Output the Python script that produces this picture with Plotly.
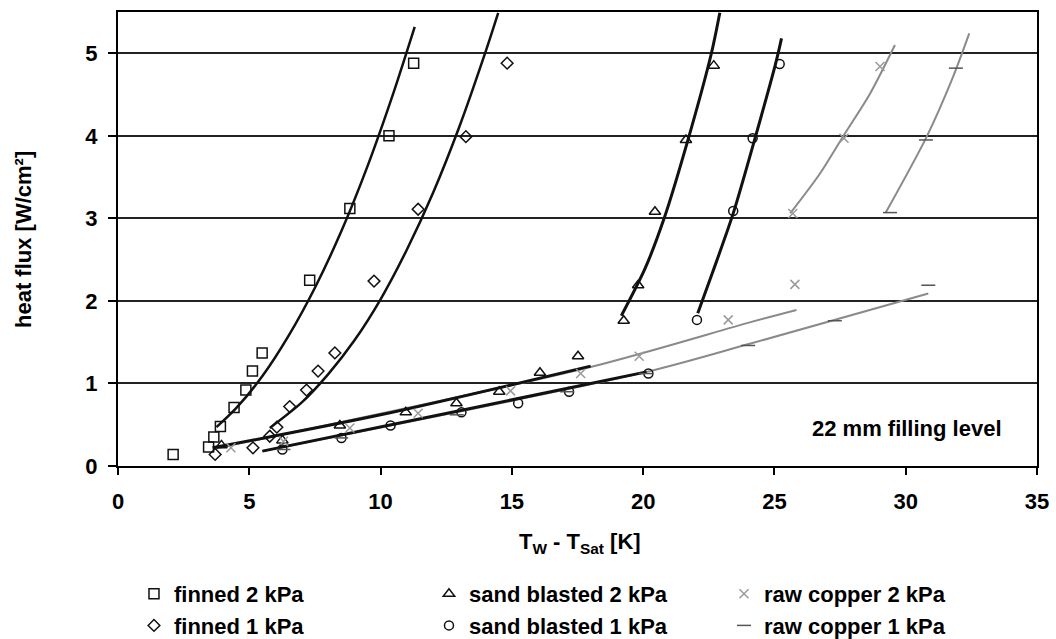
import plotly.graph_objects as go

# ---------------- data ----------------
finned2_x = [2.1, 3.45, 3.65, 3.9, 4.42, 4.87, 5.12, 5.49, 7.3, 8.83, 10.32, 11.26]
finned2_y = [0.14, 0.23, 0.35, 0.48, 0.71, 0.92, 1.15, 1.37, 2.25, 3.12, 4.0, 4.88]

finned1_x = [3.7, 5.14, 5.78, 6.05, 6.54, 7.18, 7.62, 8.26, 9.75, 11.43, 13.25, 14.82]
finned1_y = [0.14, 0.22, 0.36, 0.47, 0.72, 0.92, 1.15, 1.37, 2.24, 3.11, 3.99, 4.88]

sand2_x = [3.94, 6.26, 8.45, 10.96, 12.89, 14.52, 16.07, 17.52, 19.26, 19.81, 20.45, 21.63, 22.69]
sand2_y = [0.25, 0.31, 0.49, 0.65, 0.76, 0.9, 1.13, 1.33, 1.76, 2.19, 3.08, 3.95, 4.85]

sand1_x = [6.26, 8.51, 10.38, 13.08, 15.24, 17.18, 20.2, 22.05, 23.43, 24.17, 25.2]
sand1_y = [0.2, 0.34, 0.49, 0.65, 0.76, 0.9, 1.12, 1.77, 3.09, 3.97, 4.87]

raw2_x = [4.3, 6.3, 8.83, 11.43, 14.95, 17.62, 19.85, 23.24, 25.78, 25.7, 27.65, 29.02]
raw2_y = [0.22, 0.3, 0.46, 0.64, 0.91, 1.12, 1.33, 1.77, 2.2, 3.06, 3.97, 4.84]

raw1_x = [6.3, 8.5, 12.9, 17.1, 20.1, 24.0, 27.3, 30.86, 29.4, 30.77, 31.91]
raw1_y = [0.2, 0.34, 0.62, 0.9, 1.12, 1.46, 1.76, 2.19, 3.07, 3.95, 4.82]

# trend lines
fit_finned2_x = [3.75, 4.5, 5.5, 6.5, 7.5, 8.5, 9.5, 10.5, 11.3]
fit_finned2_y = [0.47, 0.70, 1.09, 1.58, 2.16, 2.84, 3.63, 4.53, 5.32]
fit_finned1_x = [5.78, 7.0, 8.0, 9.0, 10.0, 11.0, 12.0, 13.0, 14.0, 14.48]
fit_finned1_y = [0.46, 0.77, 1.11, 1.52, 2.02, 2.62, 3.31, 4.11, 5.02, 5.49]
fit_sand2_low_x = [3.6, 10.0, 18.0]
fit_sand2_low_y = [0.22, 0.62, 1.21]
fit_sand2_high_x = [19.17, 20.07, 20.8, 21.68, 22.6, 22.92]
fit_sand2_high_y = [1.82, 2.39, 3.0, 3.92, 5.0, 5.49]
fit_sand1_low_x = [5.5, 13.0, 20.13]
fit_sand1_low_y = [0.18, 0.67, 1.14]
fit_sand1_high_x = [22.08, 22.65, 23.43, 24.26, 25.05, 25.27]
fit_sand1_high_y = [1.85, 2.35, 3.06, 3.97, 4.88, 5.18]
fit_raw2_low_x = [3.7, 18.0, 24.06, 25.84]
fit_raw2_low_y = [0.21, 1.2, 1.74, 1.89]
fit_raw2_high_x = [25.6, 26.73, 27.65, 28.64, 29.59]
fit_raw2_high_y = [3.06, 3.54, 4.01, 4.51, 5.1]
fit_raw1_low_x = [5.5, 20.13, 24.06, 30.86]
fit_raw1_low_y = [0.18, 1.14, 1.48, 2.09]
fit_raw1_high_x = [29.24, 30.8, 31.81, 32.42]
fit_raw1_high_y = [3.07, 3.99, 4.72, 5.24]

x_ticks = [0, 5, 10, 15, 20, 25, 30, 35]
y_ticks = [0, 1, 2, 3, 4, 5]

FONT = "Liberation Sans, Arial, sans-serif"
BLACK = "#111111"
GRAY = "#8a8a8a"

fig = go.Figure()

fits = [
    (fit_raw2_low_x, fit_raw2_low_y, GRAY, 2),
    (fit_raw2_high_x, fit_raw2_high_y, GRAY, 2),
    (fit_raw1_low_x, fit_raw1_low_y, GRAY, 2),
    (fit_raw1_high_x, fit_raw1_high_y, GRAY, 2),
    (fit_finned2_x, fit_finned2_y, BLACK, 2.5),
    (fit_finned1_x, fit_finned1_y, BLACK, 2.5),
    (fit_sand2_low_x, fit_sand2_low_y, BLACK, 3),
    (fit_sand2_high_x, fit_sand2_high_y, BLACK, 3),
    (fit_sand1_low_x, fit_sand1_low_y, BLACK, 3),
    (fit_sand1_high_x, fit_sand1_high_y, BLACK, 3),
]
for fx, fy, col, w in fits:
    fig.add_trace(go.Scatter(x=fx, y=fy, mode="lines", showlegend=False,
                             hoverinfo="skip",
                             line=dict(color=col, width=w, shape="spline", smoothing=0.8)))

series = [
    ("finned 2 kPa", finned2_x, finned2_y, "square-open", 10, BLACK),
    ("sand blasted 2 kPa", sand2_x, sand2_y, "triangle-up-open", 10, BLACK),
    ("raw copper 2 kPa", raw2_x, raw2_y, "x-thin-open", 9, "#9a9a9a"),
    ("finned 1 kPa", finned1_x, finned1_y, "diamond-open", 9, BLACK),
    ("sand blasted 1 kPa", sand1_x, sand1_y, "circle-open", 9, BLACK),
    ("raw copper 1 kPa", raw1_x, raw1_y, "line-ew-open", 10, "#555555"),
]
for name, sx, sy, sym, size, col in series:
    fig.add_trace(go.Scatter(x=sx, y=sy, mode="markers", name=name,
                             marker=dict(symbol=sym, size=size, color=col,
                                         line=dict(color=col, width=1.5))))

fig.add_annotation(x=30.05, y=0.46, xref="x", yref="y", text="22 mm filling level",
                   xanchor="center", yanchor="middle", showarrow=False,
                   font=dict(family=FONT, size=22, color="black", weight="bold"))
fig.add_annotation(x=0.5027, y=-0.17, xref="paper", yref="paper",
                   xanchor="center", yanchor="middle",
                   text="T<sub>W</sub> - T<sub>Sat</sub> [K]", showarrow=False,
                   font=dict(family=FONT, size=22, color="black", weight="bold"))
fig.add_annotation(x=-0.1034, y=0.5, xref="paper", yref="paper",
                   xanchor="center", yanchor="middle",
                   text="heat flux [W/cm²]", textangle=-90, showarrow=False,
                   font=dict(family=FONT, size=22, color="black", weight="bold"))

fig.update_layout(
    width=1056, height=639,
    margin=dict(l=118, r=19, t=12, b=173, autoexpand=False),
    paper_bgcolor="white", plot_bgcolor="white",
    font=dict(family=FONT, size=22, color="black", weight="bold"),
    xaxis=dict(range=[0, 35], tickvals=x_ticks, ticks="outside", ticklen=7,
               tickwidth=2, tickcolor="black", showline=True, linecolor="black",
               linewidth=2, mirror=True, showgrid=False, zeroline=False,
               ticklabelstandoff=8,
               tickfont=dict(family=FONT, size=22, color="black", weight="bold")),
    yaxis=dict(range=[0, 5.5], tickvals=y_ticks, ticks="outside", ticklen=8,
               tickwidth=2, tickcolor="black", showline=True, linecolor="black",
               linewidth=2, mirror=True, showgrid=True, gridcolor="#222222",
               gridwidth=1.5, zeroline=False, ticklabelstandoff=6,
               tickfont=dict(family=FONT, size=22, color="black", weight="bold")),
    legend=dict(orientation="h", x=0.0174, y=-0.2357, xanchor="left", yanchor="top",
                entrywidth=250, font=dict(family=FONT, size=22, color="black", weight="bold"),
                bgcolor="rgba(0,0,0,0)", tracegroupgap=0),
    showlegend=True,
)

fig.write_html("out.html")
